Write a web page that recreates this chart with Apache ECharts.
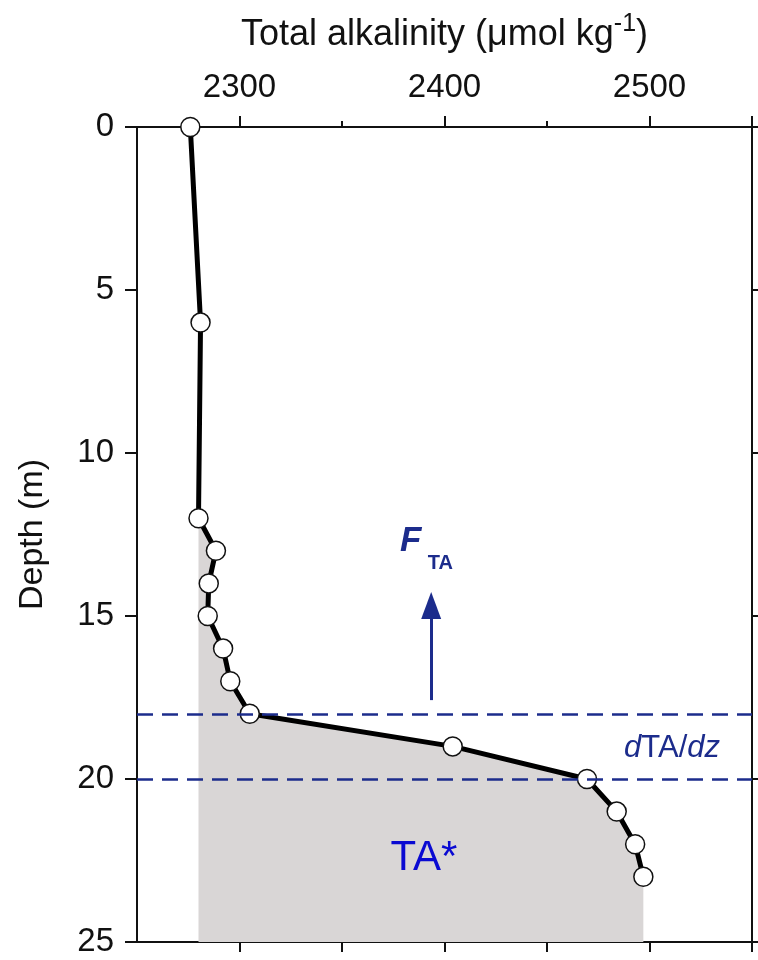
<!DOCTYPE html>
<html>
<head>
<meta charset="utf-8">
<script src="https://cdn.jsdelivr.net/npm/echarts@6/dist/echarts.min.js"></script>
<style>
  html, body { margin: 0; padding: 0; background: #fff; }
  #chart { width: 758px; height: 960px; }
</style>
</head>
<body>
<div id="chart"></div>
<script>
// depth profile of total alkalinity
const depth = [0, 6, 12, 13, 14, 15, 16, 17, 18, 19, 20, 21, 22, 23];
const alk = [2276, 2281, 2280, 2288.5, 2285, 2284.5, 2292, 2295.5, 2305, 2404, 2469.5, 2484, 2493, 2497];
const xTickLabels = [2300, 2400, 2500];
const xMajorTicks = [2300, 2400, 2500, 2550];
const xMinorTicks = [2350, 2450];
const xBottomTicks = [2300, 2350, 2400, 2450, 2500, 2550];
const dashDepths = [18, 20];
const shadeFrom = 2; // index of 12 m sample, shading starts here
const arrowX = 2393.5;
const arrowDepth = [17.58, 14.68];

const FONT = '"Liberation Sans", Arial, sans-serif';
const NAVY = '#1c2c8c';

const chart = echarts.init(document.getElementById('chart'));

const pts = depth.map((d, i) => [alk[i], d]);

// polygon for TA* shading
const shade = [];
for (let i = shadeFrom; i < pts.length; i++) shade.push(pts[i]);
shade.push([alk[alk.length - 1], 25]);
shade.push([alk[shadeFrom], 25]);

chart.setOption({
  animation: false,
  grid: { left: 137, right: 6, top: 127, bottom: 18 },
  xAxis: [
    {
      type: 'value', position: 'top', min: 2250, max: 2550,
      name: '{a|Total alkalinity (μmol kg}{s|-1}{a|)}',
      nameLocation: 'middle', nameGap: 68,
      nameTextStyle: {
        rich: {
          a: { fontFamily: FONT, fontSize: 36, color: '#111' },
          s: { fontFamily: FONT, fontSize: 25, color: '#111', verticalAlign: 'top', padding: [0, 0, 22, 0] }
        }
      },
      axisLine: { lineStyle: { color: '#111', width: 2 } },
      axisTick: { customValues: xMajorTicks, length: 11, lineStyle: { color: '#111', width: 2 } },
      axisLabel: { customValues: xTickLabels, margin: 23, fontFamily: FONT, fontSize: 33, color: '#111', formatter: v => String(v) },
      splitLine: { show: false }
    },
    {
      type: 'value', position: 'top', min: 2250, max: 2550,
      axisLine: { show: false },
      axisTick: { customValues: xMinorTicks, length: 6, lineStyle: { color: '#111', width: 2 } },
      axisLabel: { show: false },
      splitLine: { show: false }
    },
    {
      type: 'value', position: 'bottom', min: 2250, max: 2550,
      axisLine: { lineStyle: { color: '#111', width: 2 } },
      axisTick: { customValues: xBottomTicks, length: 10, lineStyle: { color: '#111', width: 2 } },
      axisLabel: { show: false },
      splitLine: { show: false }
    }
  ],
  yAxis: [
    {
      type: 'value', inverse: true, min: 0, max: 25, interval: 5,
      name: 'Depth (m)', nameLocation: 'middle', nameGap: 87,
      nameTextStyle: { fontFamily: FONT, fontSize: 34, color: '#111' },
      axisLine: { lineStyle: { color: '#111', width: 2 } },
      axisTick: { length: 12, lineStyle: { color: '#111', width: 2 } },
      axisLabel: { margin: 23, fontFamily: FONT, fontSize: 33, color: '#111' },
      splitLine: { show: false }
    },
    {
      type: 'value', inverse: true, min: 0, max: 25, interval: 5, position: 'right',
      axisLine: { lineStyle: { color: '#111', width: 2 } },
      axisTick: { length: 10, lineStyle: { color: '#111', width: 2 } },
      axisLabel: { show: false },
      splitLine: { show: false }
    }
  ],
  series: [
    {
      type: 'custom',
      silent: true,
      z: 1,
      data: [0],
      renderItem: function (params, api) {
        return {
          type: 'polygon',
          shape: { points: shade.map(p => api.coord(p)) },
          style: { fill: '#d9d6d6' }
        };
      }
    },
    {
      type: 'line',
      z: 3,
      data: pts,
      lineStyle: { color: '#000', width: 5 },
      symbol: 'circle',
      symbolSize: 19,
      itemStyle: { color: '#fff', borderColor: '#111', borderWidth: 1.5 },
      markLine: {
        silent: true,
        symbol: ['none', 'none'],
        label: { show: false },
        lineStyle: { color: NAVY, width: 2.5, type: [16, 9] },
        data: dashDepths.map(d => ({ yAxis: d }))
      }
    },
    {
      type: 'line',
      z: 2,
      data: [],
      markLine: {
        silent: true,
        symbol: ['none', 'triangle'],
        symbolSize: [20, 27],
        label: { show: false },
        lineStyle: { color: NAVY, width: 3, type: 'solid' },
        data: [[{ coord: [arrowX, arrowDepth[0]] }, { coord: [arrowX, arrowDepth[1]] }]]
      }
    }
  ]
});

// annotations placed through the axes
function at(x, d) { return chart.convertToPixel({ xAxisIndex: 0, yAxisIndex: 0 }, [x, d]); }
const pF = at(2383.5, 12.7);
const pS = at(2398, 13.4);
const pD = at(2511, 19.07);
const pT = at(2390, 22.45);
chart.setOption({
  graphic: [
    {
      type: 'text', x: pF[0], y: pF[1], z: 10,
      style: {
        text: 'F', align: 'center', verticalAlign: 'middle',
        fontFamily: FONT, fontSize: 35, fontWeight: 'bold', fontStyle: 'italic', fill: NAVY
      }
    },
    {
      type: 'text', x: pS[0], y: pS[1], z: 10,
      style: {
        text: 'TA', align: 'center', verticalAlign: 'middle',
        fontFamily: FONT, fontSize: 20, fontWeight: 'bold', fill: NAVY
      }
    },
    {
      type: 'text', x: pD[0], y: pD[1], z: 10,
      style: {
        text: '{i|d}{r|TA/}{i|dz}', align: 'center', verticalAlign: 'middle',
        rich: {
          i: { fontFamily: FONT, fontSize: 31, fontStyle: 'italic', fill: NAVY },
          r: { fontFamily: FONT, fontSize: 31, fill: NAVY }
        }
      }
    },
    {
      type: 'text', x: pT[0], y: pT[1], z: 10,
      style: {
        text: 'TA*', align: 'center', verticalAlign: 'middle',
        fontFamily: FONT, fontSize: 42, fill: '#0a0ad2'
      }
    }
  ]
});
</script>
</body>
</html>
